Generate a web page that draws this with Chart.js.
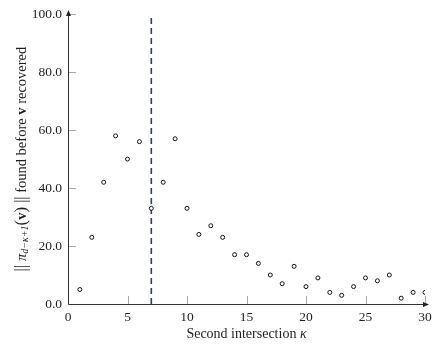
<!DOCTYPE html>
<html>
<head>
<meta charset="utf-8">
<script src="https://cdn.jsdelivr.net/npm/chart.js@4"></script>
<style>
  html, body { margin: 0; padding: 0; background: #fff; }
  #wrap { width: 434px; height: 344px; }
</style>
</head>
<body>
<div id="wrap"><canvas id="chart"></canvas></div>
<script>
// data
const intersections = [1, 2, 3, 4, 5, 6, 7, 8, 9, 10, 11, 12, 13, 14, 15, 16, 17, 18, 19, 20, 21, 22, 23, 24, 25, 26, 27, 28, 29, 30];
const foundBefore = [5, 23, 42, 58, 50, 56, 33, 42, 57, 33, 24, 27, 23, 17, 17, 14, 10, 7, 13, 6, 9, 4, 3, 6, 9, 8, 10, 2, 4, 4];
const markerX = [7, 7];
const markerY = [0, 99];
const xTicks = [0, 5, 10, 15, 20, 25, 30];
const yTicks = [0, 20, 40, 60, 80, 100];

const serif = "'Liberation Serif', 'DejaVu Serif', serif";
const ink = '#1e1e1e';

// inward ticks, axis arrows, x title and the y title with subscript
const axisDeco = {
    id: 'axisDeco',
    afterDraw(chart) {
        const ctx = chart.ctx;
        const { left, right, top, bottom } = chart.chartArea;
        const xs = chart.scales.x, ys = chart.scales.y;
        ctx.save();
        ctx.strokeStyle = '#a8a8a8';
        ctx.lineWidth = 1;
        xTicks.forEach(v => {
            if (v === 0) return;
            const px = Math.round(xs.getPixelForValue(v)) + 0.5;
            ctx.beginPath(); ctx.moveTo(px, bottom); ctx.lineTo(px, bottom - 8); ctx.stroke();
        });
        yTicks.forEach(v => {
            if (v === 0) return;
            const py = Math.round(ys.getPixelForValue(v)) + 0.5;
            ctx.beginPath(); ctx.moveTo(left, py); ctx.lineTo(left + 8, py); ctx.stroke();
        });
        // axes with arrow heads
        ctx.strokeStyle = '#333';
        ctx.beginPath();
        ctx.moveTo(left + 0.5, top - 2); ctx.lineTo(left + 0.5, bottom + 0.5); ctx.lineTo(right + 2, bottom + 0.5);
        ctx.stroke();
        ctx.fillStyle = '#222';
        ctx.beginPath();
        ctx.moveTo(left + 0.5, top - 4); ctx.lineTo(left - 2, top + 2); ctx.lineTo(left + 3, top + 2); ctx.closePath(); ctx.fill();
        ctx.beginPath();
        ctx.moveTo(right + 4, bottom + 0.5); ctx.lineTo(right - 2, bottom - 2); ctx.lineTo(right - 2, bottom + 3); ctx.closePath(); ctx.fill();

        ctx.fillStyle = ink;
        ctx.textBaseline = 'middle';

        // x title
        const xParts = [
            { t: 'Second intersection ', f: '14px ' + serif, dy: 0 },
            { t: 'κ', f: 'italic 14px ' + serif, dy: 0 }
        ];
        drawParts(ctx, xParts, (left + right) / 2, 334);

        // y title
        const yParts = [
            { t: '|| ', f: '16px ' + serif, dy: 0 },
            { t: 'π', f: 'italic 14.5px ' + serif, dy: 0 },
            { t: 'd−κ+1', f: 'italic 10px ' + serif, dy: 3 },
            { t: '(', f: '17px ' + serif, dy: 0 },
            { t: 'v', f: 'bold 14.5px ' + serif, dy: 0 },
            { t: ')', f: '17px ' + serif, dy: 0 },
            { t: ' ||', f: '16px ' + serif, dy: 0 },
            { t: ' found before ', f: '14.5px ' + serif, dy: 0 },
            { t: 'v', f: 'bold 14.5px ' + serif, dy: 0 },
            { t: ' recovered', f: '14.5px ' + serif, dy: 0 }
        ];
        ctx.translate(22, (top + bottom) / 2);
        ctx.rotate(-Math.PI / 2);
        drawParts(ctx, yParts, 0, 0);
        ctx.restore();
    }
};

function drawParts(ctx, parts, cx, cy) {
    let total = 0;
    parts.forEach(p => { ctx.font = p.f; p.w = ctx.measureText(p.t).width; total += p.w; });
    let x = cx - total / 2;
    parts.forEach(p => { ctx.font = p.f; ctx.fillText(p.t, x, cy + p.dy); x += p.w; });
}

new Chart(document.getElementById('chart'), {
    type: 'scatter',
    data: {
        datasets: [
            {
                data: intersections.map((x, i) => ({ x: x, y: foundBefore[i] })),
                pointRadius: 2,
                pointBorderWidth: 1,
                pointBorderColor: '#111',
                pointBackgroundColor: '#fff',
                showLine: false
            },
            {
                data: markerX.map((x, i) => ({ x: x, y: markerY[i] })),
                showLine: true,
                pointRadius: 0,
                borderColor: '#2a3a8c',
                borderWidth: 1.6,
                borderDash: [6, 4]
            }
        ]
    },
    options: {
        responsive: true,
        maintainAspectRatio: false,
        animation: false,
        layout: { padding: { top: 10, right: 9, left: 0, bottom: 0 } },
        plugins: { legend: { display: false }, tooltip: { enabled: false } },
        scales: {
            x: {
                type: 'linear', min: 0, max: 30,
                afterBuildTicks: s => { s.ticks = xTicks.map(v => ({ value: v })); },
                afterFit: s => { s.height = 40; s.paddingRight = 0; s.paddingLeft = 0; },
                grid: { display: false, drawTicks: false },
                border: { display: false },
                ticks: { color: ink, font: { family: serif, size: 13.5 }, padding: 5, maxRotation: 0 }
            },
            y: {
                min: 0, max: 100,
                afterBuildTicks: s => { s.ticks = yTicks.map(v => ({ value: v })); },
                afterFit: s => { s.width = 68; },
                grid: { display: false, drawTicks: false },
                border: { display: false },
                ticks: { color: ink, font: { family: serif, size: 13.5 }, padding: 6, callback: v => v.toFixed(1) }
            }
        }
    },
    plugins: [axisDeco]
});
</script>
</body>
</html>
